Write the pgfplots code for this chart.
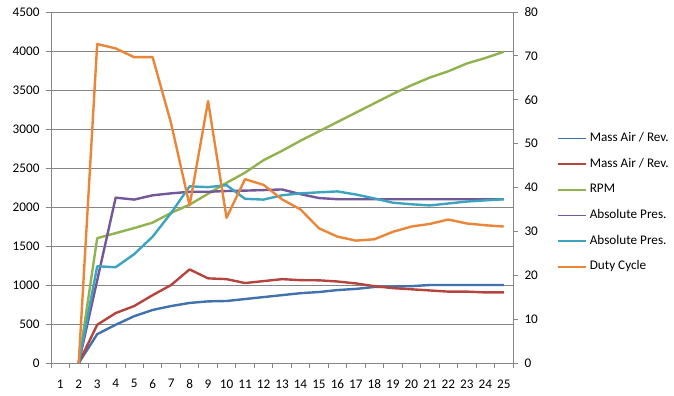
\documentclass[border=0pt]{standalone}
\usepackage{pgfplots}
\pgfplotsset{compat=1.18}
\usepackage{pgfplotstable}
\usepackage{fontspec}
\setmainfont{Carlito}
\definecolor{cBlue}{HTML}{4172AE}
\definecolor{cRed}{HTML}{B5443F}
\definecolor{cGreen}{HTML}{90B34F}
\definecolor{cPurple}{HTML}{72589A}
\definecolor{cTeal}{HTML}{3CA3C0}
\definecolor{cOrange}{HTML}{EB8638}
\definecolor{cGrid}{HTML}{868686}

\pgfplotstableread{
x massA massB rpm presA presB duty
2 0 0 0 0 0 0
3 370 490 1600 1060 1240 72.7
4 490 640 1665 2120 1228 71.7
5 600 730 1730 2095 1395 69.7
6 680 870 1800 2150 1620 69.7
7 730 1000 1925 2175 1923 54.6
8 770 1200 2030 2195 2265 35.9
9 790 1085 2170 2195 2255 59.7
10 795 1075 2310 2205 2280 33.1
11 820 1025 2440 2210 2105 41.9
12 845 1050 2600 2217 2095 40.6
13 870 1075 2720 2225 2150 37.3
14 895 1062 2850 2165 2175 35.0
15 910 1060 2970 2115 2188 30.7
16 935 1045 3090 2100 2200 28.8
17 950 1020 3210 2100 2160 27.9
18 975 985 3330 2100 2110 28.2
19 980 960 3450 2100 2055 29.9
20 985 945 3560 2100 2035 31.1
21 1000 930 3660 2100 2020 31.7
22 1000 915 3740 2100 2045 32.7
23 1000 915 3840 2100 2070 31.8
24 1000 905 3910 2100 2085 31.4
25 1000 905 3990 2100 2100 31.1
}\datatable

\begin{document}
\begin{tikzpicture}[font=\fontsize{13.2bp}{15.5bp}\selectfont]
\useasboundingbox (0,0) rectangle (674bp,396bp);
\pgfplotsset{
  common/.style={
    at={(51bp,33bp)}, anchor=south west, scale only axis,
    width=462bp, height=351bp,
    xmin=0.5, xmax=25.5,
    tick align=outside, major tick length=5bp,
    tick style={cGrid, line width=0.8bp},
    axis line style={cGrid, line width=0.8bp},
    /pgf/number format/assume math mode=true,
    /pgf/number format/1000 sep={},
  },
  ser/.style={line width=2.4bp, line join=round, mark=none},
}
\begin{axis}[common,
  ymin=0, ymax=4500, ytick={0,500,...,4500},
  axis x line*=bottom, axis y line*=left,
  ymajorgrids, grid style={cGrid, line width=0.8bp},
  xtick={0.5,1.5,...,25.5},
  xticklabels={1,2,3,4,5,6,7,8,9,10,11,12,13,14,15,16,17,18,19,20,21,22,23,24,25},
  x tick label as interval,
  xticklabel style={yshift=-8bp},
  yticklabel style={xshift=-3bp},
]
\addplot[ser, cBlue] table[x=x, y=massA] {\datatable};
\addplot[ser, cRed] table[x=x, y=massB] {\datatable};
\addplot[ser, cGreen] table[x=x, y=rpm] {\datatable};
\addplot[ser, cPurple] table[x=x, y=presA] {\datatable};
\addplot[ser, cTeal] table[x=x, y=presB] {\datatable};
\end{axis}
\begin{axis}[common,
  ymin=0, ymax=80, ytick={0,10,...,80},
  axis y line*=right, axis x line=none,
  yticklabel style={xshift=3bp},
  legend cell align=left,
  legend image code/.code={\draw[#1, line width=1.6bp] (0bp,0bp) -- (28bp,0bp);},
  legend style={at={(1.0952,0.457)}, anchor=west, draw=none, fill=none,
    inner sep=0pt, row sep=11.7bp, column sep=2bp,
    nodes={inner sep=1bp, text height=9bp, text depth=3bp}},
]
\addlegendimage{cBlue}\addlegendentry{Mass Air / Rev.}
\addlegendimage{cRed}\addlegendentry{Mass Air / Rev.}
\addlegendimage{cGreen}\addlegendentry{RPM}
\addlegendimage{cPurple}\addlegendentry{Absolute Pres.}
\addlegendimage{cTeal}\addlegendentry{Absolute Pres.}
\addplot[ser, cOrange] table[x=x, y=duty] {\datatable};
\addlegendentry{Duty Cycle}
\end{axis}
\end{tikzpicture}
\end{document}
